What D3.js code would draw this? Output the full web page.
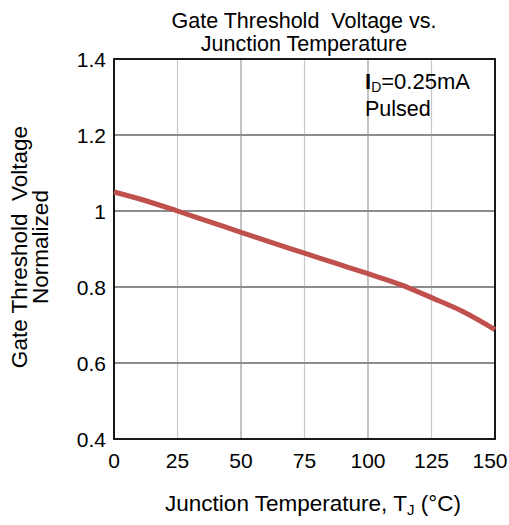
<!DOCTYPE html>
<html>
<head>
<meta charset="utf-8">
<script src="https://cdn.jsdelivr.net/npm/d3@7"></script>
<style>
  body { margin: 0; background: #fff; }
  text { font-family: "Liberation Sans", Arial, sans-serif; fill: #000; }
</style>
</head>
<body>
<svg id="chart" width="509" height="525"></svg>
<script>
var WIDTH = 509, HEIGHT = 525;
var margin = { left: 114, right: 14, top: 59, bottom: 86 };

var tempTicks = [0, 25, 50, 75, 100, 125, 150];
var voltTicks = [0.4, 0.6, 0.8, 1, 1.2, 1.4];
var temps = [0, 12.5, 25, 37.5, 50, 62.5, 75, 87.5, 100, 112.5, 125, 137.5, 150];
var vth = [1.05, 1.027, 1.0, 0.972, 0.944, 0.916, 0.889, 0.862, 0.835, 0.807, 0.772, 0.735, 0.688];

var svg = d3.select("#chart");
var x = d3.scaleLinear().domain([0, 150]).range([margin.left, WIDTH - margin.right]);
var y = d3.scaleLinear().domain([0.4, 1.4]).range([HEIGHT - margin.bottom, margin.top]);

// vertical grid, alternating shade
svg.append("g").selectAll("line")
  .data(tempTicks.slice(1, -1))
  .enter().append("line")
  .attr("x1", d => x(d)).attr("x2", d => x(d))
  .attr("y1", y(1.4)).attr("y2", y(0.4))
  .attr("stroke", (d, i) => i % 2 ? "#9a9a9a" : "#c8c8c8")
  .attr("stroke-width", 1.2);

// horizontal grid
svg.append("g").selectAll("line")
  .data(voltTicks.slice(1, -1))
  .enter().append("line")
  .attr("x1", x(0)).attr("x2", x(150))
  .attr("y1", d => y(d)).attr("y2", d => y(d))
  .attr("stroke", "#8c8c8c")
  .attr("stroke-width", 2);

// frame
svg.append("rect")
  .attr("x", x(0)).attr("y", y(1.4))
  .attr("width", x(150) - x(0)).attr("height", y(0.4) - y(1.4))
  .attr("fill", "none").attr("stroke", "#000").attr("stroke-width", 1.8);

// curve
var line = d3.line()
  .x((d, i) => x(temps[i]))
  .y(d => y(d))
  .curve(d3.curveMonotoneX);

svg.append("path")
  .datum(vth)
  .attr("d", line)
  .attr("fill", "none")
  .attr("stroke", "#c0504d")
  .attr("stroke-width", 5);

// tick labels (last one pulled in to stay inside the page)
svg.append("g").selectAll("text")
  .data(tempTicks)
  .enter().append("text")
  .attr("x", d => x(d)).attr("y", y(0.4) + 29)
  .attr("dx", d => d === 150 ? -5 : 0)
  .attr("text-anchor", "middle")
  .attr("font-size", 21)
  .text(d => d);

svg.append("g").selectAll("text")
  .data(voltTicks)
  .enter().append("text")
  .attr("x", x(0) - 8).attr("y", d => y(d) + 8)
  .attr("text-anchor", "end")
  .attr("font-size", 21)
  .text(d => d);

// title
svg.append("text").attr("x", 304).attr("y", 27.5)
  .attr("text-anchor", "middle").attr("font-size", 21.5)
  .attr("xml:space", "preserve")
  .text("Gate Threshold  Voltage vs.");
svg.append("text").attr("x", 304).attr("y", 51)
  .attr("text-anchor", "middle").attr("font-size", 21.5)
  .text("Junction Temperature");

// annotation
var ann = svg.append("text").attr("x", 365).attr("y", 89).attr("font-size", 22);
ann.append("tspan").attr("font-weight", "bold").text("I");
ann.append("tspan").attr("font-size", 14).attr("dy", 3).text("D");
ann.append("tspan").attr("dy", -3).text("=0.25mA");
svg.append("text").attr("x", 365).attr("y", 116).attr("font-size", 21.5).text("Pulsed");

// axis titles
svg.append("text")
  .attr("transform", "translate(27,247) rotate(-90)")
  .attr("text-anchor", "middle").attr("font-size", 22.5)
  .attr("xml:space", "preserve")
  .text("Gate Threshold  Voltage");
svg.append("text")
  .attr("transform", "translate(48,247) rotate(-90)")
  .attr("text-anchor", "middle").attr("font-size", 22.5)
  .text("Normalized");

var xt = svg.append("text").attr("x", 313).attr("y", 511)
  .attr("text-anchor", "middle").attr("font-size", 22.5)
  .attr("xml:space", "preserve");
xt.append("tspan").text("Junction Temperature, T");
xt.append("tspan").attr("font-size", 15).attr("dy", 4).text("J");
xt.append("tspan").attr("dy", -4).text(" (°C)");
</script>
</body>
</html>
